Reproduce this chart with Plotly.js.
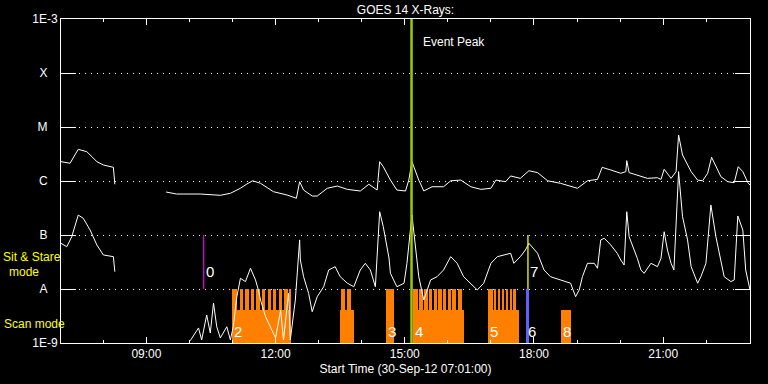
<!DOCTYPE html>
<html>
<head>
<meta charset="utf-8">
<script src="https://cdn.plot.ly/plotly-3.0.1.min.js"></script>
<style>html,body{margin:0;padding:0;background:#000;}#chart{width:768px;height:384px;}</style>
</head>
<body>
<div id="chart"></div>
<script>
// ---- DATA ----
const DAY = '2012-09-30 ';

// Long channel (upper curve) : times and flux (W/m^2); null = data gap
const longTimes = ['07:01:00','07:13:36','07:25:00','07:37:00','07:51:00','08:00:00','08:14:00','08:16:00','08:17:00',
 '09:27:30','09:42:00','10:15:00','10:43:00','10:57:00','11:11:00','11:20:00','11:28:00','11:39:00','11:57:00',
 '12:16:00','12:29:00','12:33:30','12:39:00','12:51:00','12:58:00','13:12:00','13:26:00','13:40:00','13:58:00',
 '14:10:00','14:21:30','14:25:00','14:30:00','14:40:00','14:49:00','15:01:00','15:05:36','15:10:00','15:19:30',
 '15:26:30','15:38:00','15:54:00','16:04:00','16:18:00','16:32:00','16:46:00','17:00:00','17:07:00','17:20:30',
 '17:27:30','17:41:00','17:53:00','18:05:00','18:19:00','18:37:00','19:00:36','19:14:30','19:28:30','19:35:00',
 '19:47:00','20:01:00','20:08:00','20:09:18','20:12:36','20:29:00','20:38:00','20:52:00','20:57:00','21:01:24',
 '21:11:00','21:18:00','21:21:30','21:27:00','21:39:00','21:48:00','21:55:00','22:02:00','22:07:30','22:20:30',
 '22:30:00','22:39:00','22:44:36','22:51:00','22:58:00','23:01:00'];
const longFlux = [2.28e-6,2.13e-6,3.86e-6,3.49e-6,2.28e-6,1.98e-6,1.79e-6,8.7e-7,null,
 6.25e-7,5.74e-7,5.74e-7,5.43e-7,5.92e-7,7.33e-7,8.8e-7,1.01e-6,9.06e-7,6.34e-7,
 5.5e-7,4.79e-7,9.7e-7,6.8e-7,5.27e-7,5.27e-7,7.33e-7,8.07e-7,7.0e-7,6.53e-7,
 8.7e-7,6.8e-7,2.28e-6,1.84e-6,1.04e-6,6.8e-7,6.53e-7,1.04e-6,2.28e-6,1.04e-6,
 6.53e-7,7.83e-7,7.83e-7,1.01e-6,1.04e-6,7.83e-7,7.0e-7,7.33e-7,1.04e-6,9.7e-7,
 1.24e-6,1.12e-6,1.55e-6,1.43e-6,1.01e-6,9.06e-7,7.33e-7,1.01e-6,1.07e-6,1.79e-6,
 1.6e-6,1.39e-6,1.49e-6,2.38e-6,1.43e-6,1.24e-6,1.12e-6,1.15e-6,1.07e-6,1.65e-6,
 1.12e-6,1.49e-6,7.11e-6,3.03e-6,1.49e-6,1.04e-6,1.01e-6,1.39e-6,2.75e-6,1.2e-6,
 9.7e-7,9.3e-7,1.84e-6,1.49e-6,9.3e-7,8.43e-7];

// Short channel (lower curve)
const shortTimes = ['07:01:00','07:09:00','07:16:00','07:25:00','07:32:00','07:41:30','07:51:00','08:00:00','08:14:00','08:16:00','08:17:00',
 '10:01:00','10:12:36','10:17:00','10:24:00','10:29:00','10:33:30','10:38:00','10:43:00','10:52:00','10:57:00',
 '11:01:00','11:06:00','11:11:00','11:18:00','11:25:00','11:32:00','11:36:00','11:39:00','11:46:00','11:53:00',
 '12:00:00','12:07:00','12:11:00','12:18:00','12:20:30','12:27:30','12:33:30','12:34:30','12:39:00','12:46:00',
 '12:51:00','12:58:00','13:07:00','13:14:00','13:23:00','13:30:00','13:40:00','13:49:00','13:58:00','14:05:00',
 '14:12:00','14:19:00','14:25:00','14:30:00','14:38:00','14:40:00','14:49:00','14:59:00','15:03:00','15:10:00',
 '15:17:00','15:19:30','15:26:30','15:36:00','15:45:00','15:54:00','16:04:00','16:13:00','16:22:00','16:32:00',
 '16:41:00','16:50:00','17:00:00','17:09:00','17:18:00','17:27:30','17:32:00','17:41:00','17:48:00','17:53:00',
 '18:05:00','18:14:00','18:23:00','18:37:00','18:51:00','18:58:00','19:03:00','19:07:30','19:14:30','19:24:00',
 '19:28:30','19:33:00','19:38:00','19:47:00','19:56:00','20:01:00','20:05:36','20:09:18','20:12:36','20:24:00',
 '20:29:00','20:33:30','20:43:00','20:52:00','20:57:00','21:01:24','21:06:00','21:11:00','21:15:00','21:21:30',
 '21:27:00','21:34:00','21:39:00','21:48:00','21:52:36','21:59:36','22:06:30','22:13:30','22:20:30','22:25:00',
 '22:34:24','22:39:00','22:44:00','22:51:00','22:55:00','23:00:00','23:01:00'];
const shortFlux = [7.02e-8,6.07e-8,9.3e-8,2.34e-7,2.04e-7,1.24e-7,6.53e-8,4.27e-8,3.97e-8,2.09e-8,null,
 1.1e-9,1.9e-9,1.14e-9,3.3e-9,1.53e-9,5.5e-9,2.0e-9,1.24e-9,2.0e-9,1.14e-9,
 2.0e-9,7.2e-9,1.58e-8,1.37e-8,2.42e-8,1.47e-8,9.6e-9,6.25e-9,3.07e-9,2.0e-9,
 1.24e-9,4.08e-9,1.14e-9,8.3e-9,1.14e-9,6.25e-9,8.1e-8,3.44e-8,1.69e-8,8.3e-9,
 3.8e-9,7.2e-9,1.1e-8,2.25e-8,2.59e-8,1.69e-8,1.28e-8,1.1e-8,2.25e-8,2.99e-8,
 2.25e-8,1.1e-8,2.7e-7,1.43e-7,3.75e-8,1.95e-8,1.1e-8,1.28e-8,2.99e-8,2.34e-7,
 3.7e-8,1.69e-8,6.25e-9,1.47e-8,1.69e-8,2.25e-8,3.97e-8,2.99e-8,1.69e-8,1.28e-8,
 9.6e-9,1.28e-8,2.99e-8,3.97e-8,4.27e-8,4.58e-8,2.99e-8,3.97e-8,5.27e-8,7.02e-8,
 4.58e-8,2.25e-8,1.69e-8,1.47e-8,1.28e-8,7.2e-9,9.6e-9,1.69e-8,2.99e-8,2.99e-8,
 2.42e-8,8.1e-8,8.7e-8,6.53e-8,4.58e-8,3.44e-8,2.78e-8,2.7e-7,9.3e-8,3.7e-8,
 2.25e-8,1.95e-8,2.99e-8,2.59e-8,3.7e-8,1.15e-7,5.27e-8,2.99e-8,2.25e-8,1.49e-6,
 2.18e-7,8.1e-8,2.59e-8,1.28e-8,1.69e-8,2.99e-8,3.6e-7,9.3e-8,2.99e-8,1.69e-8,
 1.37e-8,1.47e-8,2.25e-7,1.24e-7,2.25e-8,1.19e-8,9.6e-9];

// Scan-mode rasters (tall stripes) : start / end times
const stripeStart = ['10:59:12','11:09:48','11:17:42','11:25:42','11:33:06','11:41:00','11:48:48','11:56:24','12:04:12','12:12:12','12:18:12',
 '13:31:42','13:39:36','14:34:06',
 '15:10:48','15:20:06','15:27:06','15:33:30','15:40:06','15:46:36','15:53:00','15:59:36','16:06:06','16:13:30',
 '16:56:24','17:04:12','17:09:48','17:15:24','17:20:54','17:26:30','17:31:18'];
const stripeEnd = ['11:06:12','11:14:30','11:22:18','11:30:18','11:37:42','11:45:36','11:53:36','12:01:00','12:08:54','12:16:48','12:21:30',
 '13:37:18','13:45:12','14:44:42',
 '15:18:06','15:25:06','15:31:42','15:38:12','15:44:42','15:51:12','15:57:48','16:04:12','16:11:42','16:20:06',
 '17:02:24','17:07:30','17:13:06','17:18:42','17:24:18','17:29:54','17:34:30'];
// Scan-mode blocks (low)
const blockStart = ['10:59:12','13:29:48','15:10:48','16:56:24','18:37:18'];
const blockEnd   = ['12:21:30','13:49:24','16:22:00','17:39:06','18:51:12'];
const stripeTop = 1e-8;     // A level
const blockTop = 4.1e-9;
// Observation 6 (blue)
const obs6Start = '17:48:24', obs6End = '17:52:36';
// Sit & stare markers
const sitTimes = ['10:19:48','17:51:36'];
const sitLow = 1e-8, sitHigh = 1e-7;
// Event peak
const peakTime = '15:09:24';
// Marker labels
const markLabels = ['0','2','3','4','5','6','7','8'];
const markTimes = ['10:19:48','10:59:12','14:34:06','15:10:48','16:56:24','17:48:24','17:51:36','18:37:18'];
const markRow = ['sit','scan','scan','scan','scan','scan','sit','scan'];

const yTickVals = [1e-9,1e-8,1e-7,1e-6,1e-5,1e-4,1e-3];
const yTickText = ['1E-9','A\u00a0\u00a0\u00a0','B\u00a0\u00a0\u00a0','C\u00a0\u00a0\u00a0','M\u00a0\u00a0\u00a0','X\u00a0\u00a0\u00a0','1E-3'];

// ---- BUILD ----
function ms(t){const p=t.split(':').map(Number);return Date.UTC(2012,8,30,p[0],p[1],p[2]||0);}
function mid(a,b){return new Date((ms(a)+ms(b))/2).toISOString().replace('T',' ').replace('Z','');}
function wid(a,b){return ms(b)-ms(a);}

const ORANGE = '#ff8000';
const traces = [];
traces.push({type:'bar', x:blockStart.map((s,i)=>mid(s,blockEnd[i])), y:blockStart.map(()=>blockTop),
  width:blockStart.map((s,i)=>wid(s,blockEnd[i])), marker:{color:ORANGE,line:{width:0}}, hoverinfo:'skip'});
traces.push({type:'bar', x:stripeStart.map((s,i)=>mid(s,stripeEnd[i])), y:stripeStart.map(()=>stripeTop),
  width:stripeStart.map((s,i)=>wid(s,stripeEnd[i])), marker:{color:ORANGE,line:{width:0}}, hoverinfo:'skip'});
traces.push({type:'bar', x:[mid(obs6Start,obs6End)], y:[stripeTop], width:[wid(obs6Start,obs6End)],
  marker:{color:'#6060ff',line:{width:0}}, hoverinfo:'skip'});

traces.push({type:'scatter', mode:'lines', x:longTimes.map(t=>DAY+t), y:longFlux, connectgaps:false,
  line:{color:'white',width:1}});
traces.push({type:'scatter', mode:'lines', x:shortTimes.map(t=>DAY+t), y:shortFlux, connectgaps:false,
  line:{color:'white',width:1}});
traces.push({type:'scatter', mode:'lines', x:[DAY+sitTimes[0],DAY+sitTimes[0]], y:[sitLow,sitHigh],
  line:{color:'#e000e0',width:1.3}});
traces.push({type:'scatter', mode:'lines', x:[DAY+sitTimes[1],DAY+sitTimes[1]], y:[sitLow,sitHigh],
  line:{color:'#ffff00',width:1.3}});
traces.push({type:'scatter', mode:'lines', x:[DAY+peakTime,DAY+peakTime], y:[1e-9,1e-3],
  line:{color:'#99cc00',width:2.5}});

const FONT = 'Liberation Sans, Arial, sans-serif';
const annotations = [
  {xref:'paper', yref:'y', x:-0.0856, y:-7.41, xanchor:'left', yanchor:'middle', borderpad:0,
   text:'Sit &amp; Stare', showarrow:false, font:{color:'#ffff00',size:12,family:FONT}},
  {xref:'paper', yref:'y', x:-0.053, y:-7.68, xanchor:'center', yanchor:'middle', borderpad:0,
   text:'mode', showarrow:false, font:{color:'#ffff00',size:12,family:FONT}},
  {xref:'paper', yref:'y', x:-0.0856, y:-8.65, xanchor:'left', yanchor:'middle', text:'Scan mode', showarrow:false, font:{color:'#ffff00',size:12,family:FONT}},
  {xref:'x', yref:'y', x:DAY+peakTime, y:-3.435, xanchor:'left', yanchor:'middle', xshift:9, text:'Event Peak', showarrow:false, font:{color:'white',size:12,family:FONT}}
];
markLabels.forEach((l,i)=>{
  annotations.push({xref:'x', yref:'y', x:DAY+markTimes[i], y:(markRow[i]==='sit'?-7.667:-8.796), xanchor:'left', yanchor:'middle',
    text:l, showarrow:false, font:{color:'white',size:15,family:FONT}});
});

const layout = {
  width:768, height:384,
  paper_bgcolor:'#000', plot_bgcolor:'#000',
  margin:{l:61,r:18,t:19,b:41},
  showlegend:false, barmode:'overlay', bargap:0,
  font:{family:FONT, size:12, color:'white'},
  title:{text:'GOES 14 X-Rays:', xref:'paper', x:0.5, xanchor:'center', yref:'container', y:0.975, yanchor:'middle', font:{size:12,color:'white',family:FONT}},
  xaxis:{type:'date', range:[DAY+'07:01:00', DAY+'23:01:00'], tickmode:'linear', tick0:DAY+'09:00:00', dtick:3*3600000,
    tickformat:'%H:%M', ticks:'inside', ticklen:6, tickwidth:1, tickcolor:'white', showline:true, linecolor:'white', linewidth:1,
    mirror:'allticks', showgrid:false, zeroline:false, tickfont:{size:12,color:'white'},
    minor:{ticks:'inside', ticklen:3, tickwidth:1, tickcolor:'white', tickmode:'linear', tick0:DAY+'07:00:00', dtick:3600000, showgrid:false},
    title:{text:'Start Time (30-Sep-12 07:01:00)', font:{size:12,color:'white'}, standoff:4}},
  yaxis:{type:'log', range:[-9,-3], tickmode:'array', tickvals:yTickVals, ticktext:yTickText, ticks:'inside', ticklen:15, tickwidth:1,
    tickcolor:'white', showline:true, linecolor:'white', linewidth:1, mirror:'allticks', showgrid:true, gridcolor:'white', gridwidth:1,
    griddash:'1px,5px', zeroline:false, tickfont:{size:12,color:'white'}},
  annotations:annotations
};
Plotly.newPlot('chart', traces, layout, {staticPlot:true, displayModeBar:false});
</script>
</body>
</html>
